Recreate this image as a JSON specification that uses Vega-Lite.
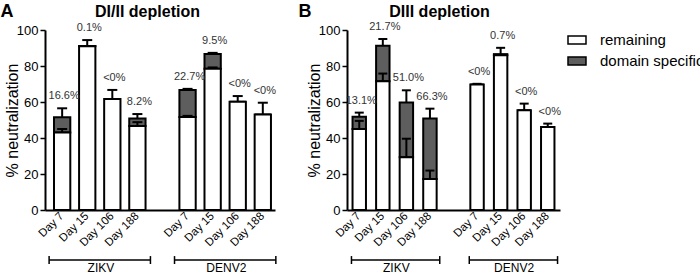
{
  "$schema": "https://vega.github.io/schema/vega-lite/v6.json",
  "background": "white",
  "padding": {"left": 0, "top": 3, "right": 0, "bottom": 0},
  "datasets": {
    "bars": [
      {"panel": "A", "slot": "ZIKV Day 7", "remaining": 43.0, "total": 51.5, "total_hi": 56.5, "rem_hi": 45.0, "label": "16.6%"},
      {"panel": "A", "slot": "ZIKV Day 15", "remaining": 91.0, "total": 91.1, "total_hi": 94.4, "rem_hi": null, "label": "0.1%"},
      {"panel": "A", "slot": "ZIKV Day 106", "remaining": 61.7, "total": 61.7, "total_hi": 66.7, "rem_hi": null, "label": "<0%"},
      {"panel": "A", "slot": "ZIKV Day 188", "remaining": 46.7, "total": 50.9, "total_hi": 53.3, "rem_hi": 48.8, "label": "8.2%"},
      {"panel": "A", "slot": "DENV2 Day 7", "remaining": 51.6, "total": 66.7, "total_hi": 67.3, "rem_hi": 52.3, "label": "22.7%"},
      {"panel": "A", "slot": "DENV2 Day 15", "remaining": 78.5, "total": 86.7, "total_hi": 87.3, "rem_hi": 79.2, "label": "9.5%"},
      {"panel": "A", "slot": "DENV2 Day 106", "remaining": 60.2, "total": 60.2, "total_hi": 63.3, "rem_hi": null, "label": "<0%"},
      {"panel": "A", "slot": "DENV2 Day 188", "remaining": 53.1, "total": 53.1, "total_hi": 59.6, "rem_hi": null, "label": "<0%"},
      {"panel": "B", "slot": "ZIKV Day 7", "remaining": 45.0, "total": 51.8, "total_hi": 54.1, "rem_hi": 49.5, "label": "13.1%"},
      {"panel": "B", "slot": "ZIKV Day 15", "remaining": 71.5, "total": 91.3, "total_hi": 95.0, "rem_hi": 75.8, "label": "21.7%"},
      {"panel": "B", "slot": "ZIKV Day 106", "remaining": 29.3, "total": 59.7, "total_hi": 66.5, "rem_hi": 39.6, "label": "51.0%"},
      {"panel": "B", "slot": "ZIKV Day 188", "remaining": 17.2, "total": 50.9, "total_hi": 56.3, "rem_hi": 21.9, "label": "66.3%"},
      {"panel": "B", "slot": "DENV2 Day 7", "remaining": 69.7, "total": 69.7, "total_hi": 70.1, "rem_hi": null, "label": "<0%"},
      {"panel": "B", "slot": "DENV2 Day 15", "remaining": 86.0, "total": 86.6, "total_hi": 90.1, "rem_hi": null, "label": "0.7%"},
      {"panel": "B", "slot": "DENV2 Day 106", "remaining": 55.4, "total": 55.4, "total_hi": 59.1, "rem_hi": null, "label": "<0%"},
      {"panel": "B", "slot": "DENV2 Day 188", "remaining": 46.1, "total": 46.1, "total_hi": 48.0, "rem_hi": null, "label": "<0%"}
    ],
    "groups": [
      {"panel": "A", "virus": "ZIKV", "first": "ZIKV Day 7", "last": "ZIKV Day 188", "mid": "ZIKV Day 106"},
      {"panel": "A", "virus": "DENV2", "first": "DENV2 Day 7", "last": "DENV2 Day 188", "mid": "DENV2 Day 106"},
      {"panel": "B", "virus": "ZIKV", "first": "ZIKV Day 7", "last": "ZIKV Day 188", "mid": "ZIKV Day 106"},
      {"panel": "B", "virus": "DENV2", "first": "DENV2 Day 7", "last": "DENV2 Day 188", "mid": "DENV2 Day 106"}
    ]
  },
  "spacing": 72,
  "bounds": "flush",
  "resolve": {"scale": {"x": "independent", "y": "independent", "fill": "shared"}},
  "hconcat": [
    {
      "width": 230,
      "height": 180,
      "title": {"text": "A", "anchor": "start", "frame": "bounds", "fontSize": 18, "fontWeight": "bold", "baseline": "bottom", "offset": -36, "dx": -4},
      "resolve": {"axis": {"x": "independent"}},
      "layer": [
        {
          "data": {"name": "bars"},
          "transform": [{"filter": "datum.panel === 'A'"}],
          "mark": {"type": "bar", "stroke": "black", "strokeWidth": 2},
          "encoding": {
            "x": {"field": "slot", "type": "nominal",
                  "scale": {"domain": ["ZIKV Day 7", "ZIKV Day 15", "ZIKV Day 106", "ZIKV Day 188", " ", "DENV2 Day 7", "DENV2 Day 15", "DENV2 Day 106", "DENV2 Day 188"], "paddingInner": 0.35, "paddingOuter": 0.26, "align": 0.69},
                  "axis": {"orient": "bottom", "title": null, "ticks": false, "domainWidth": 2, "domainColor": "black", "labelAngle": -45, "labelAlign": "right", "labelBaseline": "middle", "labelFontSize": 11.5, "labelPadding": 4, "labelColor": "black", "labelOverlap": false, "labelExpr": "substring(datum.value, indexof(datum.value, 'Day'))"}},
            "y": {"field": "total", "type": "quantitative", "scale": {"domain": [0, 100], "nice": false},
                  "axis": {"title": "% neutralization", "values": [0, 20, 40, 60, 80, 100], "tickCount": 6, "grid": false, "labelOverlap": false, "titleX": -32.5, "titleBaseline": "middle"}},
            "y2": {"field": "remaining"},
            "fill": {"datum": "domain specific", "type": "nominal", "scale": {"domain": ["remaining", "domain specific"], "range": ["white", "#5e5e5e"]}}
          }
        },
        {
          "data": {"name": "bars"},
          "transform": [{"filter": "datum.panel === 'A'"}],
          "mark": {"type": "bar", "stroke": "black", "strokeWidth": 2},
          "encoding": {
            "x": {"field": "slot", "type": "nominal", "axis": null},
            "y": {"field": "remaining", "type": "quantitative"},
            "fill": {"datum": "remaining", "type": "nominal"}
          }
        },
        {
          "data": {"name": "bars"},
          "transform": [{"filter": "datum.panel === 'A'"}],
          "mark": {"type": "rule", "strokeWidth": 2, "color": "black"},
          "encoding": {
            "x": {"field": "slot", "type": "nominal", "axis": null},
            "y": {"field": "total", "type": "quantitative"},
            "y2": {"field": "total_hi"}
          }
        },
        {
          "data": {"name": "bars"},
          "transform": [{"filter": "datum.panel === 'A'"}],
          "mark": {"type": "tick", "orient": "horizontal", "size": 10, "thickness": 2, "color": "black", "opacity": 1},
          "encoding": {
            "x": {"field": "slot", "type": "nominal", "axis": null},
            "y": {"field": "total_hi", "type": "quantitative"}
          }
        },
        {
          "data": {"name": "bars"},
          "transform": [{"filter": "datum.panel === 'A' && isValid(datum.rem_hi)"}],
          "mark": {"type": "rule", "strokeWidth": 2, "color": "black"},
          "encoding": {
            "x": {"field": "slot", "type": "nominal", "axis": null},
            "y": {"field": "remaining", "type": "quantitative"},
            "y2": {"field": "rem_hi"}
          }
        },
        {
          "data": {"name": "bars"},
          "transform": [{"filter": "datum.panel === 'A' && isValid(datum.rem_hi)"}],
          "mark": {"type": "tick", "orient": "horizontal", "size": 10, "thickness": 2, "color": "black", "opacity": 1},
          "encoding": {
            "x": {"field": "slot", "type": "nominal", "axis": null},
            "y": {"field": "rem_hi", "type": "quantitative"}
          }
        },
        {
          "data": {"name": "bars"},
          "transform": [{"filter": "datum.panel === 'A'"}],
          "mark": {"type": "text", "fontSize": 11, "color": "#333", "dy": -12, "dx": 2, "baseline": "middle"},
          "encoding": {
            "x": {"field": "slot", "type": "nominal",
                  "axis": {"orient": "top", "labels": false, "ticks": false, "domain": false, "title": "DI/II depletion", "titleFontSize": 16, "titleFontWeight": "bold", "titleColor": "black", "titlePadding": 11, "titleX": 102, "titleBaseline": "bottom"}},
            "y": {"field": "total_hi", "type": "quantitative"},
            "text": {"field": "label"}
          }
        },
        {
          "data": {"name": "groups"},
          "transform": [{"filter": "datum.panel === 'A'"}],
          "mark": {"type": "rule", "strokeWidth": 1.5, "color": "black"},
          "encoding": {
            "x": {"field": "first", "type": "nominal", "bandPosition": -0.3, "axis": null},
            "x2": {"field": "last", "bandPosition": 1.3},
            "y": {"datum": -27.8, "type": "quantitative"}
          }
        },
        {
          "data": {"name": "groups"},
          "transform": [{"filter": "datum.panel === 'A'"}],
          "mark": {"type": "rule", "strokeWidth": 1.5, "color": "black"},
          "encoding": {
            "x": {"field": "first", "type": "nominal", "bandPosition": -0.3, "axis": null},
            "y": {"datum": -25.6, "type": "quantitative"},
            "y2": {"datum": -30}
          }
        },
        {
          "data": {"name": "groups"},
          "transform": [{"filter": "datum.panel === 'A'"}],
          "mark": {"type": "rule", "strokeWidth": 1.5, "color": "black"},
          "encoding": {
            "x": {"field": "last", "type": "nominal", "bandPosition": 1.3, "axis": null},
            "y": {"datum": -25.6, "type": "quantitative"},
            "y2": {"datum": -30}
          }
        },
        {
          "data": {"name": "groups"},
          "transform": [{"filter": "datum.panel === 'A'"}],
          "mark": {"type": "text", "fontSize": 12, "color": "black", "baseline": "top"},
          "encoding": {
            "x": {"field": "mid", "type": "nominal", "bandPosition": -0.2, "axis": null},
            "y": {"datum": -29.2, "type": "quantitative"},
            "text": {"field": "virus"}
          }
        }
      ]
    },
    {
      "width": 213,
      "height": 180,
      "title": {"text": "B", "anchor": "start", "frame": "bounds", "fontSize": 18, "fontWeight": "bold", "baseline": "bottom", "offset": -36, "dx": -8},
      "resolve": {"axis": {"x": "independent"}},
      "layer": [
        {
          "data": {"name": "bars"},
          "transform": [{"filter": "datum.panel === 'B'"}],
          "mark": {"type": "bar", "stroke": "black", "strokeWidth": 2},
          "encoding": {
            "x": {"field": "slot", "type": "nominal",
                  "scale": {"domain": ["ZIKV Day 7", "ZIKV Day 15", "ZIKV Day 106", "ZIKV Day 188", " ", "DENV2 Day 7", "DENV2 Day 15", "DENV2 Day 106", "DENV2 Day 188"], "paddingInner": 0.43, "paddingOuter": 0.235, "align": 0.5},
                  "axis": {"orient": "bottom", "title": null, "ticks": false, "domainWidth": 2, "domainColor": "black", "labelAngle": -45, "labelAlign": "right", "labelBaseline": "middle", "labelFontSize": 11.5, "labelPadding": 4, "labelColor": "black", "labelOverlap": false, "labelExpr": "substring(datum.value, indexof(datum.value, 'Day'))"}},
            "y": {"field": "total", "type": "quantitative", "scale": {"domain": [0, 100], "nice": false},
                  "axis": {"title": "% neutralization", "values": [0, 20, 40, 60, 80, 100], "tickCount": 6, "grid": false, "labelOverlap": false, "titleX": -32.5, "titleBaseline": "middle"}},
            "y2": {"field": "remaining"},
            "fill": {"datum": "domain specific", "type": "nominal"}
          }
        },
        {
          "data": {"name": "bars"},
          "transform": [{"filter": "datum.panel === 'B'"}],
          "mark": {"type": "bar", "stroke": "black", "strokeWidth": 2},
          "encoding": {
            "x": {"field": "slot", "type": "nominal", "axis": null},
            "y": {"field": "remaining", "type": "quantitative"},
            "fill": {"datum": "remaining", "type": "nominal"}
          }
        },
        {
          "data": {"name": "bars"},
          "transform": [{"filter": "datum.panel === 'B'"}],
          "mark": {"type": "rule", "strokeWidth": 2, "color": "black"},
          "encoding": {
            "x": {"field": "slot", "type": "nominal", "axis": null},
            "y": {"field": "total", "type": "quantitative"},
            "y2": {"field": "total_hi"}
          }
        },
        {
          "data": {"name": "bars"},
          "transform": [{"filter": "datum.panel === 'B'"}],
          "mark": {"type": "tick", "orient": "horizontal", "size": 9, "thickness": 2, "color": "black", "opacity": 1},
          "encoding": {
            "x": {"field": "slot", "type": "nominal", "axis": null},
            "y": {"field": "total_hi", "type": "quantitative"}
          }
        },
        {
          "data": {"name": "bars"},
          "transform": [{"filter": "datum.panel === 'B' && isValid(datum.rem_hi)"}],
          "mark": {"type": "rule", "strokeWidth": 2, "color": "black"},
          "encoding": {
            "x": {"field": "slot", "type": "nominal", "axis": null},
            "y": {"field": "remaining", "type": "quantitative"},
            "y2": {"field": "rem_hi"}
          }
        },
        {
          "data": {"name": "bars"},
          "transform": [{"filter": "datum.panel === 'B' && isValid(datum.rem_hi)"}],
          "mark": {"type": "tick", "orient": "horizontal", "size": 9, "thickness": 2, "color": "black", "opacity": 1},
          "encoding": {
            "x": {"field": "slot", "type": "nominal", "axis": null},
            "y": {"field": "rem_hi", "type": "quantitative"}
          }
        },
        {
          "data": {"name": "bars"},
          "transform": [{"filter": "datum.panel === 'B'"}],
          "mark": {"type": "text", "fontSize": 11, "color": "#333", "dy": -12, "dx": 2, "baseline": "middle"},
          "encoding": {
            "x": {"field": "slot", "type": "nominal",
                  "axis": {"orient": "top", "labels": false, "ticks": false, "domain": false, "title": "DIII depletion", "titleFontSize": 16, "titleFontWeight": "bold", "titleColor": "black", "titlePadding": 11, "titleX": 92, "titleBaseline": "bottom"}},
            "y": {"field": "total_hi", "type": "quantitative"},
            "text": {"field": "label"}
          }
        },
        {
          "data": {"name": "groups"},
          "transform": [{"filter": "datum.panel === 'B'"}],
          "mark": {"type": "rule", "strokeWidth": 1.5, "color": "black"},
          "encoding": {
            "x": {"field": "first", "type": "nominal", "bandPosition": -0.08, "axis": null},
            "x2": {"field": "last", "bandPosition": 1.23},
            "y": {"datum": -27.8, "type": "quantitative"}
          }
        },
        {
          "data": {"name": "groups"},
          "transform": [{"filter": "datum.panel === 'B'"}],
          "mark": {"type": "rule", "strokeWidth": 1.5, "color": "black"},
          "encoding": {
            "x": {"field": "first", "type": "nominal", "bandPosition": -0.08, "axis": null},
            "y": {"datum": -25.6, "type": "quantitative"},
            "y2": {"datum": -30}
          }
        },
        {
          "data": {"name": "groups"},
          "transform": [{"filter": "datum.panel === 'B'"}],
          "mark": {"type": "rule", "strokeWidth": 1.5, "color": "black"},
          "encoding": {
            "x": {"field": "last", "type": "nominal", "bandPosition": 1.23, "axis": null},
            "y": {"datum": -25.6, "type": "quantitative"},
            "y2": {"datum": -30}
          }
        },
        {
          "data": {"name": "groups"},
          "transform": [{"filter": "datum.panel === 'B'"}],
          "mark": {"type": "text", "fontSize": 12, "color": "black", "baseline": "top"},
          "encoding": {
            "x": {"field": "mid", "type": "nominal", "bandPosition": -0.25, "axis": null},
            "y": {"datum": -29.2, "type": "quantitative"},
            "text": {"field": "virus"}
          }
        }
      ]
    }
  ],
  "config": {
    "font": "Liberation Sans",
    "view": {"stroke": null},
    "axis": {"labelOverlap": false},
    "axisY": {"labelOverlap": false, "domainColor": "black", "domainWidth": 2, "tickColor": "black", "tickWidth": 1.5, "tickSize": 5, "labelFontSize": 13, "labelColor": "black", "labelPadding": 2, "titleFontSize": 16, "titleFontWeight": "normal", "titleColor": "black", "titlePadding": 1},
    "legend": {"orient": "right", "title": null, "offset": 6, "symbolType": "M-1,-0.45H1V0.45H-1Z", "symbolSize": 324, "symbolStrokeColor": "black", "symbolStrokeWidth": 1.5, "labelFontSize": 15, "labelColor": "black", "labelOffset": 13, "rowPadding": 3}
  }
}
